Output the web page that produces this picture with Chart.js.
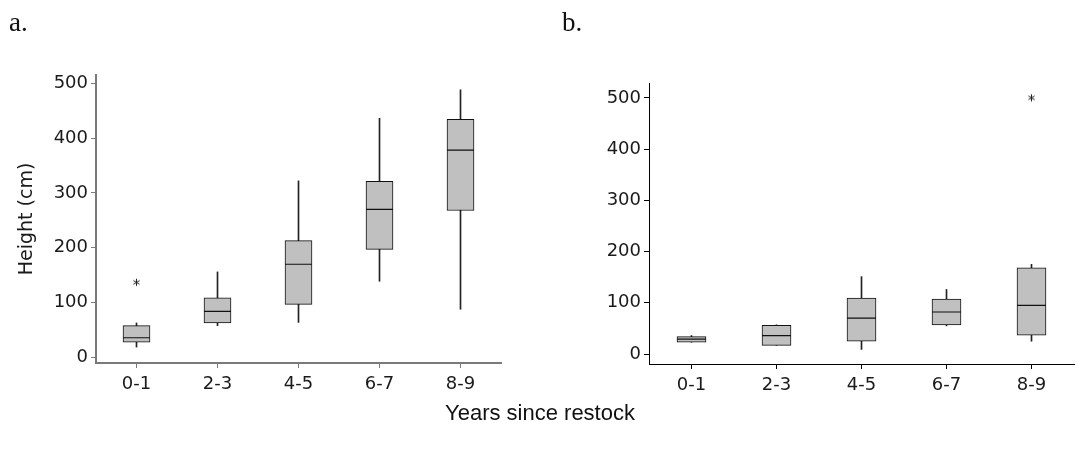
<!DOCTYPE html>
<html>
<head>
<meta charset="utf-8">
<script src="https://cdn.jsdelivr.net/npm/chart.js@4"></script>
<style>
  body { margin: 0; background: #fff; }
  #wrap { position: relative; width: 1077px; height: 450px; overflow: hidden; }
  canvas { position: absolute; top: 0; }
  #chartA { left: 0; }
  #chartB { left: 540px; }
  .panel { position: absolute; font-family: "Liberation Serif", serif; font-size: 27px; line-height: 1; color: #111; }
  #xTitle { position: absolute; left: 0; width: 1080px; top: 402px; text-align: center;
            font-family: "Liberation Sans", Arial, sans-serif; font-size: 22px; line-height: 1; color: #111; }
</style>
</head>
<body>
<div id="wrap">
  <canvas id="chartA" width="540" height="400"></canvas>
  <canvas id="chartB" width="563" height="401"></canvas>
  <div class="panel" style="left:9px; top:9px;">a.</div>
  <div class="panel" style="left:562px; top:9px;">b.</div>
  <div id="xTitle">Years since restock</div>
</div>
<script>
// --- data ---
const categories = ['0-1', '2-3', '4-5', '6-7', '8-9'];
const yTicks = [0, 100, 200, 300, 400, 500];

// panel a
const aLow  = [19, 58, 64, 139, 88];
const aQ1   = [28, 63, 97, 197, 268];
const aMed  = [36, 84, 170, 270, 378];
const aQ3   = [58, 109, 213, 321, 434];
const aHigh = [63, 156, 322, 436, 488];
const aOut  = [137, null, null, null, null];

// panel b
const bLow  = [23, 17, 9, 55, 25];
const bQ1   = [23, 17, 25, 57, 37];
const bMed  = [29, 36, 70, 82, 95];
const bQ3   = [34, 56, 109, 107, 168];
const bHigh = [36, 57, 151, 126, 175];
const bOut  = [null, null, null, null, 500];

// asterisk marker for outliers
function makeAsterisk() {
    const c = document.createElement('canvas');
    c.width = 11; c.height = 11;
    const g = c.getContext('2d');
    g.strokeStyle = '#222';
    g.lineWidth = 1;
    const r = 3.6;
    [90, 30, 150].forEach(deg => {
        const a = deg * Math.PI / 180;
        g.beginPath();
        g.moveTo(5.5 - Math.cos(a) * r, 5.5 - Math.sin(a) * r);
        g.lineTo(5.5 + Math.cos(a) * r, 5.5 + Math.sin(a) * r);
        g.stroke();
    });
    return c;
}
const asterisk = makeAsterisk();

function makeBoxChart(id, d, geo) {
    const font = { family: '"DejaVu Sans", sans-serif', size: 18 };
    return new Chart(document.getElementById(id), {
        type: 'bar',
        data: {
            labels: categories,
            datasets: [
                {   // whiskers
                    data: categories.map((c, i) => [d.low[i], d.high[i]]),
                    backgroundColor: '#222',
                    borderWidth: 0,
                    barThickness: 1,
                    grouped: false,
                    order: 4
                },
                {   // boxes
                    data: categories.map((c, i) => [d.q1[i], d.q3[i]]),
                    backgroundColor: '#c0c0c0',
                    borderColor: '#111',
                    borderWidth: 1,
                    borderSkipped: false,
                    barThickness: geo.boxW,
                    grouped: false,
                    order: 3
                },
                {   // medians
                    type: 'line',
                    data: d.med,
                    showLine: false,
                    pointStyle: 'line',
                    pointRadius: geo.boxW / 2,
                    pointBorderWidth: 1.2,
                    pointBorderColor: '#111',
                    order: 2
                },
                {   // outliers
                    type: 'line',
                    data: d.out,
                    showLine: false,
                    pointStyle: asterisk,
                    pointRadius: 5,
                    order: 1
                }
            ]
        },
        options: {
            responsive: false,
            animation: false,
            events: [],
            layout: { padding: { top: geo.top, right: geo.right, left: 0, bottom: 0 } },
            plugins: { legend: { display: false }, tooltip: { enabled: false } },
            scales: {
                x: {
                    offset: true,
                    grid: { drawOnChartArea: false, offset: false, tickLength: 5, color: geo.axisColor, tickWidth: 1 },
                    border: { display: true, color: geo.axisColor, width: geo.axisWidth },
                    ticks: { font: font, color: '#1a1a1a', padding: 6, maxRotation: 0 },
                    afterFit: s => { s.height = 37; }
                },
                y: {
                    min: geo.min,
                    max: geo.max,
                    afterBuildTicks: s => { s.ticks = yTicks.map(v => ({ value: v })); },
                    grid: { drawOnChartArea: false, tickLength: 5, color: geo.axisColor, tickWidth: 1 },
                    border: { display: true, color: geo.axisColor, width: geo.axisWidth },
                    ticks: { font: font, color: '#1a1a1a', padding: 3 },
                    title: {
                        display: !!geo.yTitle,
                        text: geo.yTitle || '',
                        font: { family: '"DejaVu Sans", sans-serif', size: 19 },
                        color: '#1a1a1a',
                        padding: { top: 16, bottom: 0 }
                    },
                    afterFit: s => { s.width = geo.yW; }
                }
            }
        }
    });
}

makeBoxChart('chartA',
    { low: aLow, q1: aQ1, med: aMed, q3: aQ3, high: aHigh, out: aOut },
    { top: 75, right: 39, yW: 96, boxW: 27, min: -10, max: 515, axisColor: '#7a7a7a', axisWidth: 2, yTitle: 'Height (cm)' });

// canvas b runs past the right edge; the wide right padding keeps the axis end at x=1074
makeBoxChart('chartB',
    { low: bLow, q1: bQ1, med: bMed, q3: bQ3, high: bHigh, out: bOut },
    { top: 83, right: 29, yW: 109, boxW: 29, min: -19.5, max: 529, axisColor: '#000', axisWidth: 1, yTitle: '' });
</script>
</body>
</html>
